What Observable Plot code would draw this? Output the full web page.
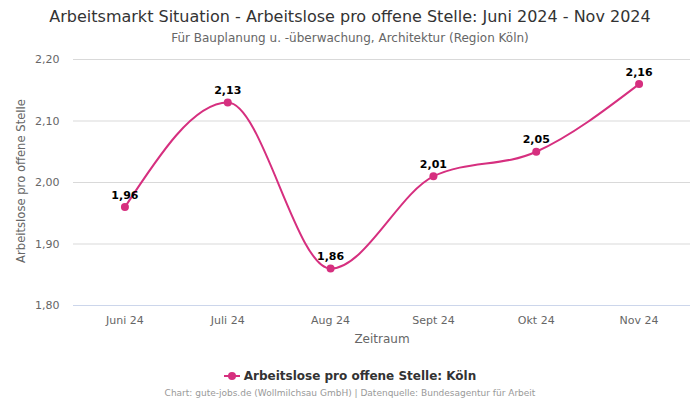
<!DOCTYPE html>
<html>
<head>
<meta charset="utf-8">
<script src="https://cdn.jsdelivr.net/npm/d3@7"></script>
<script src="https://cdn.jsdelivr.net/npm/@observablehq/plot@0.6"></script>
<style>
  body { margin: 0; width: 700px; height: 400px; background: #fff; font-family: "DejaVu Sans", sans-serif; position: relative; overflow: hidden; }
  .title { position: absolute; top: 7px; left: 0; width: 700px; text-align: center; font-size: 16px; color: #333; }
  .subtitle { position: absolute; top: 31px; left: 0; width: 700px; text-align: center; font-size: 12px; color: #666; }
  #chart { position: absolute; top: 50px; left: 0; }
  .xlabel { position: absolute; top: 332px; left: 74px; width: 616px; text-align: center; font-size: 12px; color: #666; }
  .ylabel { position: absolute; left: 21px; top: 181px; transform: translate(-50%, -50%) rotate(-90deg); white-space: nowrap; font-size: 11.6px; color: #666; }
  .legend { position: absolute; top: 369px; left: 0; width: 700px; text-align: center; font-size: 12px; font-weight: bold; color: #333; }
  .legend svg { vertical-align: middle; margin-right: 4px; position: relative; top: -1px; }
  .footer { position: absolute; top: 388px; left: 0; width: 700px; text-align: center; font-size: 9px; color: #999; }
</style>
</head>
<body>
<div class="title">Arbeitsmarkt Situation - Arbeitslose pro offene Stelle: Juni 2024 - Nov 2024</div>
<div class="subtitle">Für Bauplanung u. -überwachung, Architektur (Region Köln)</div>
<div id="chart"></div>
<div class="xlabel">Zeitraum</div>
<div class="ylabel">Arbeitslose pro offene Stelle</div>
<div class="legend"><svg width="16" height="10"><line x1="0" y1="5" x2="16" y2="5" stroke="#d62f7f" stroke-width="2"/><circle cx="8" cy="5" r="4" fill="#d62f7f"/></svg>Arbeitslose pro offene Stelle: Köln</div>
<div class="footer">Chart: gute-jobs.de (Wollmilchsau GmbH) | Datenquelle: Bundesagentur für Arbeit</div>
<script>
const months = ["Juni 24", "Juli 24", "Aug 24", "Sept 24", "Okt 24", "Nov 24"];
const values = [1.96, 2.13, 1.86, 2.01, 2.05, 2.16];
const yTicks = [1.8, 1.9, 2.0, 2.1, 2.2];

const data = months.map((m, i) => ({month: m, value: values[i]}));
const fmt = v => v.toFixed(2).replace(".", ",");
const color = "#d62f7f";

const chart = Plot.plot({
  width: 700,
  height: 300,
  marginTop: 9,
  marginBottom: 45,
  marginLeft: 73,
  marginRight: 10,
  style: {fontFamily: "DejaVu Sans, sans-serif", fontSize: "11px", color: "#666", background: "transparent"},
  x: {type: "point", domain: months, padding: 0.5, round: false, label: null},
  y: {domain: [1.8, 2.2], label: null},
  marks: [
    Plot.ruleY(yTicks, {stroke: d => d === 1.8 ? "#ccd6eb" : "#d9d9d9", strokeWidth: 1}),
    Plot.axisY({ticks: yTicks, tickFormat: fmt, tickSize: 0, tickPadding: 14, label: null, fill: "#666", fontSize: 11}),
    Plot.axisX({tickSize: 0, tickPadding: 11, label: null, fill: "#666", fontSize: 11}),
    Plot.line(data, {x: "month", y: "value", stroke: color, strokeWidth: 2, curve: "monotone-x"}),
    Plot.dot(data, {x: "month", y: "value", r: 4, fill: color}),
    Plot.text(data, {x: "month", y: "value", text: d => fmt(d.value), dy: -12, fontWeight: "bold", fontSize: 11, fill: "#000"})
  ]
});
document.getElementById("chart").appendChild(chart);
</script>
</body>
</html>
